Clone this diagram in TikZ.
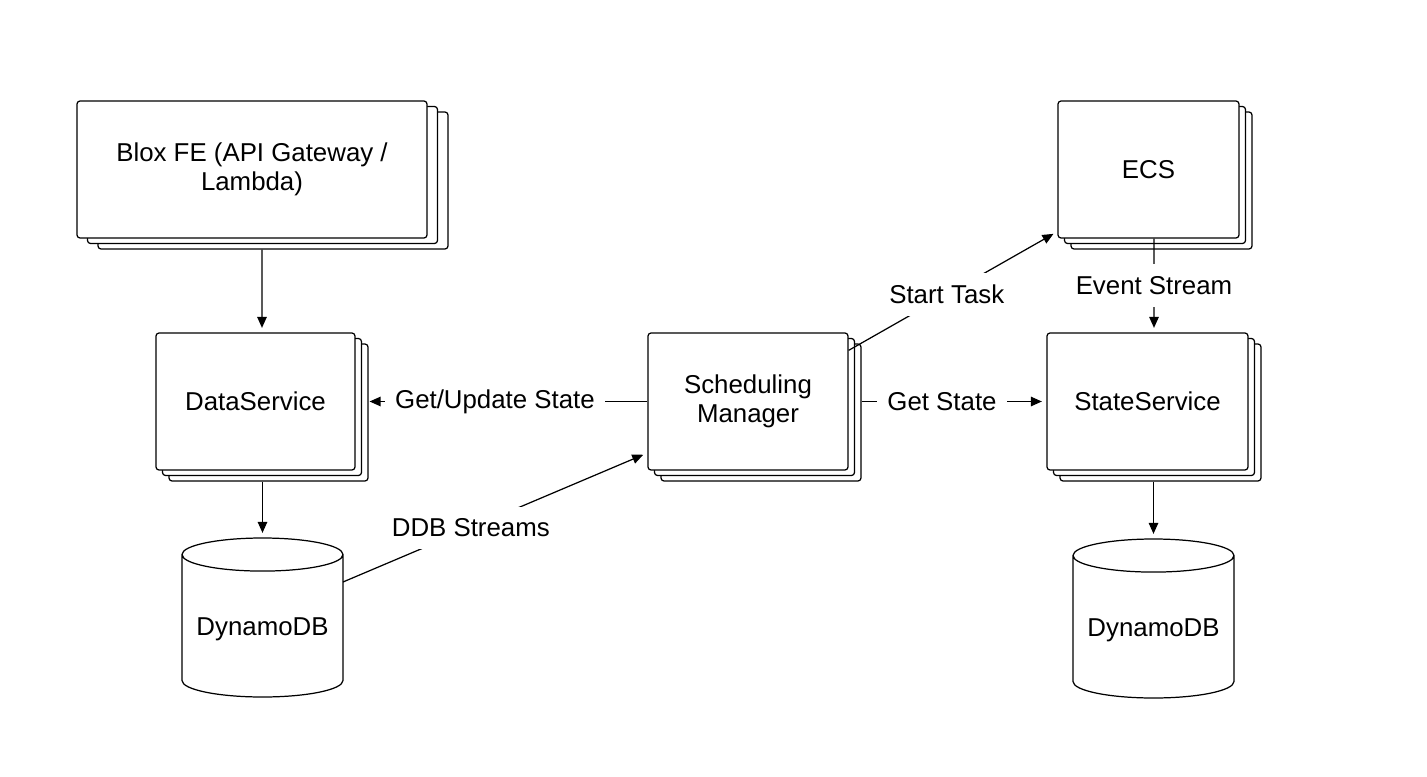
\documentclass[tikz,border=0pt]{standalone}
\usepackage{fontspec}
\setmainfont{Liberation Sans}
\usetikzlibrary{arrows,arrows.meta,shapes,positioning,shadows}

\begin{document}
\begin{tikzpicture}[node distance=20mm,line width=0.7pt,
font=\fontsize{14.7}{16.5}\selectfont,
service/.style={
rectangle,
draw,
fill=white,
rounded corners=0.06cm,
align=center,
minimum height=2.74cm,
copy shadow={shadow xshift=2*#1,shadow yshift=-0.22cm},
copy shadow={shadow xshift=#1,shadow yshift=-0.11cm}
},
service/.default=0.13cm,
store/.style={
cylinder,
shape border rotate=90,
draw,
fill=white,
aspect=0.23,
minimum width=3.22cm,
minimum height=3.18cm
},
to/.style={->,>={Stealth[length=0.22cm,width=0.19cm,inset=0pt]},shorten >=0.09cm},
msg/.style={fill=white,inner xsep=0.2cm,inner ysep=0.24cm}
]
\useasboundingbox (-5.11,-7.49) rectangle (23.43,8.03);

\node (data) [service, minimum width=3.98cm] {DataService};
\node (blox) [service=0.21cm, minimum width=7cm, above of=data, node distance=4.64cm, xshift=-0.07cm] {Blox FE (API Gateway /\\Lambda)};
\node (sched) [service, minimum width=4cm, right of=data, node distance=9.85cm] {Scheduling\\Manager};
\node (state) [service, minimum width=4.02cm, right of=sched, node distance=7.99cm] {StateService};
\node (ecs) [service, minimum width=3.62cm, above of=state, node distance=4.64cm, xshift=0.02cm] {ECS};
\node (ddbl) [store, below of=data, node distance=4.32cm, xshift=0.14cm, anchor=shape center] {DynamoDB};
\node (ddbr) [store, below of=state, node distance=4.34cm, xshift=0.12cm, anchor=shape center] {DynamoDB};

\draw[to] ([xshift=0.2cm,yshift=-0.22cm]blox.south) -- ([xshift=0.13cm]data.north);
\draw[to] ([xshift=0.14cm,yshift=-0.22cm]data.south) -- (ddbl.top);
\draw[to] ([xshift=0.12cm,yshift=-0.22cm]state.south) -- (ddbr.top);
\draw[to] ([xshift=0.11cm]ecs.south) -- node[msg]{Event Stream} ([xshift=0.13cm]state.north);
\draw[to] (sched.west) -- node[msg,pos=0.54]{Get/Update State} ([xshift=0.19cm]data.east);
\draw[to] ([xshift=0.26cm]sched.east) -- node[msg,pos=0.435]{Get State} (state.west);
\draw[to] ([yshift=-0.36cm]sched.north east) -- node[msg,pos=0.47]{Start Task} ([yshift=0.14cm]ecs.south west);
\draw[to] ([xshift=1.61cm,yshift=0.71cm]ddbl.shape center) -- node[msg,pos=0.42]{DDB Streams} ([yshift=-1.03cm]sched.west);
\end{tikzpicture}
\end{document}
